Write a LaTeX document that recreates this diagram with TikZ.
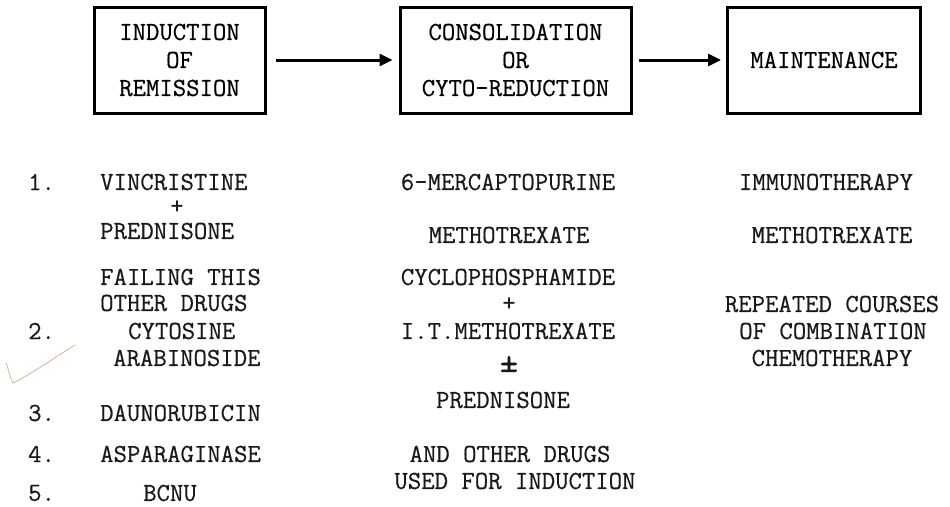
\documentclass[tikz,border=0pt]{standalone}
\usepackage{fontspec}
\newfontfamily\typewriter{Latin Modern Mono}[FakeBold=0.5]
\usetikzlibrary{arrows.meta}

\begin{document}
\begin{tikzpicture}[x=1pt, y=-1pt,
    phase/.style={draw, line width=3pt, align=center, inner sep=0pt, minimum height=106pt},
    drug/.style={inner sep=0pt, text=black!90},
    flow/.style={line width=3pt, -{Triangle[length=13pt,width=12pt]}},
    font=\typewriter\fontsize{26}{28}\selectfont]
    \useasboundingbox (0,0) rectangle (950,506);

    % the three phases
    \node[phase, minimum width=171pt] (induct) at (179.5,60) {INDUCTION\\OF\\REMISSION};
    \node[phase, minimum width=231pt] (consol) at (515.5,60) {CONSOLIDATION\\OR\\CYTO-REDUCTION};
    \node[phase, minimum width=193pt] (maint) at (824,60) {MAINTENANCE};
    \draw[flow, shorten <=9pt, shorten >=6pt] (induct) -- (consol);
    \draw[flow, shorten <=6pt, shorten >=5pt] (consol) -- (maint);

    % induction drugs
    \node[drug, anchor=west] (one) at (28,182) {1.};
    \node[drug, anchor=west] (vinc) at (100,182) {VINCRISTINE};
    \node[drug] (plusa) at (177,207) {+};
    \node[drug, anchor=west] (preda) at (100,231) {PREDNISONE};
    \node[drug, anchor=west] (fail) at (100,277) {FAILING THIS};
    \node[drug, anchor=west] (other) at (100,303) {OTHER DRUGS};
    \node[drug, anchor=west] (two) at (28,331) {2.};
    \node[drug, anchor=west] (cyto) at (128,331) {CYTOSINE};
    \node[drug, anchor=west] (arab) at (113,358) {ARABINOSIDE};
    \node[drug, anchor=west] (three) at (28,413) {3.};
    \node[drug, anchor=west] (dauno) at (100,413) {DAUNORUBICIN};
    \node[drug, anchor=west] (four) at (28,454) {4.};
    \node[drug, anchor=west] (aspar) at (100,454) {ASPARAGINASE};
    \node[drug, anchor=west] (five) at (28,493) {5.};
    \node[drug, anchor=west] (bcnu) at (143,493) {BCNU};

    % consolidation drugs
    \node[drug] (merc) at (508,182) {6-MERCAPTOPURINE};
    \node[drug] (metha) at (509,235) {METHOTREXATE};
    \node[drug] (cyclo) at (508,277) {CYCLOPHOSPHAMIDE};
    \node[drug] (plusb) at (509,304) {+};
    \node[drug] (itmeth) at (508,331) {I.T.METHOTREXATE};
    \node[drug, font=\typewriter\fontsize{36}{36}\selectfont] (pm) at (509,364) {±};
    \node[drug] (predb) at (503,400) {PREDNISONE};
    \node[drug] (andoth) at (510,454) {AND OTHER DRUGS};
    \node[drug] (used) at (515,481) {USED FOR INDUCTION};

    % maintenance drugs
    \node[drug] (immuno) at (826,182) {IMMUNOTHERAPY};
    \node[drug] (methb) at (832,235) {METHOTREXATE};
    \node[drug] (repeat) at (832,304) {REPEATED COURSES};
    \node[drug] (comb) at (833,331) {OF COMBINATION};
    \node[drug] (chemo) at (832,358) {CHEMOTHERAPY};

    % pencil tick
    \draw[brown!60!white, line width=0.8pt] (6,363) .. controls (10,374) and (11,380) .. (13,383)
        .. controls (35,372) and (55,357) .. (75,345);
\end{tikzpicture}
\end{document}
